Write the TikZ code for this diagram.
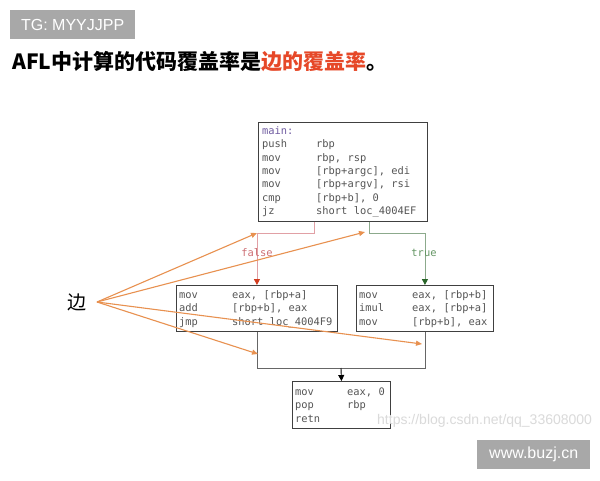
\documentclass[tikz,border=0pt]{standalone}
\usepackage{fontspec}
\setmainfont{Liberation Sans}
\newfontfamily\cjk{Noto Sans CJK SC}
\newfontfamily\mono{DejaVu Sans Mono}
\usetikzlibrary{arrows.meta}
\definecolor{tgray}{RGB}{168,168,168}
\definecolor{titlered}{RGB}{230,72,40}
\definecolor{edgeor}{RGB}{232,145,80}
\definecolor{falsec}{RGB}{225,160,165}
\definecolor{falsetxt}{RGB}{205,110,115}
\definecolor{falsetip}{RGB}{210,60,30}
\definecolor{truec}{RGB}{140,170,140}
\definecolor{truetxt}{RGB}{100,150,100}
\definecolor{truetip}{RGB}{40,100,40}
\definecolor{codec}{RGB}{85,85,85}
\definecolor{labc}{RGB}{110,90,160}
\definecolor{wmc}{RGB}{218,218,218}
\begin{document}
\begin{tikzpicture}[x=1pt,y=-1pt,
  cbox/.style={draw=black!75, line width=0.9pt, inner sep=0, anchor=north west},
  code/.style={inner sep=0, anchor=base west, text=codec, font=\mono\fontsize{10.4}{13.3}\selectfont},
  tag/.style={fill=tgray, text=white, inner sep=0, anchor=north west, font=\fontsize{16}{16}\selectfont},
  brlabel/.style={inner sep=0, font=\mono\fontsize{10.4}{13.3}\selectfont},
  falseline/.style={draw=falsec, line width=0.9pt, -{Triangle[length=6pt,width=6pt,color=falsetip]}},
  trueline/.style={draw=truec, line width=0.9pt, -{Triangle[length=6pt,width=6pt,color=truetip]}},
  mergeline/.style={draw=black!60, line width=0.9pt},
  mergearrow/.style={draw=black, line width=0.9pt, -{Triangle[length=6pt,width=6pt]}},
  edgearrow/.style={draw=edgeor, line width=1.1pt, -{Triangle[length=6pt,width=5pt]}}]
\useasboundingbox (0,0) rectangle (600,480);
\fill[white] (0,0) rectangle (600,480);

% header
\node[tag, minimum width=125pt, minimum height=29pt] (tg) at (10,10) {TG: MYYJJPP};
\node[anchor=base west, inner sep=0, font=\cjk\bfseries\fontsize{21}{21}\selectfont] (title) at (12,69.5)
  {AFL中计算的代码覆盖率是\textcolor{titlered}{边的覆盖率}。};

% boxes
\node[cbox, minimum width=169pt, minimum height=99pt] (top) at (258,122) {};
\node[cbox, minimum width=161pt, minimum height=46pt] (left) at (176,285) {};
\node[cbox, minimum width=137pt, minimum height=46pt] (right) at (356,285) {};
\node[cbox, minimum width=98pt, minimum height=47pt] (bottom) at (292,381) {};

\node[code] (topcode) at (262,134.5) {\begin{tabular}[t]{@{}p{54pt}@{}l@{}}
\multicolumn{2}{@{}l@{}}{\textcolor{labc}{main:}}\\
push & rbp\\
mov & rbp, rsp\\
mov & [rbp+argc], edi\\
mov & [rbp+argv], rsi\\
cmp & [rbp+b], 0\\
jz & short loc\_4004EF
\end{tabular}};
\node[code] (leftcode) at (179,298.5) {\begin{tabular}[t]{@{}p{53pt}@{}l@{}}
mov & eax, [rbp+a]\\
add & [rbp+b], eax\\
jmp & short loc\_4004F9
\end{tabular}};
\node[code] (rightcode) at (359,298.5) {\begin{tabular}[t]{@{}p{53pt}@{}l@{}}
mov & eax, [rbp+b]\\
imul & eax, [rbp+a]\\
mov & [rbp+b], eax
\end{tabular}};
\node[code] (bottomcode) at (295,395.5) {\begin{tabular}[t]{@{}p{52pt}@{}l@{}}
mov & eax, 0\\
pop & rbp\\
retn &
\end{tabular}};

% branches
\coordinate (fk) at (314,233);
\coordinate (tk) at (369,233);
\draw[falseline] (top.south -| fk) -- (fk) -| (left.north);
\draw[trueline] (top.south -| tk) -- (tk) -| (right.north);
\node[brlabel, text=falsetxt] (flab) at (257,253) {false};
\node[brlabel, text=truetxt] (tlab) at (424,253) {true};

% merge
\coordinate (mj) at (341,368);
\draw[mergeline] (left.south) -- (left.south |- mj) -- (right.south |- mj) -- (right.south);
\draw[mergearrow] (mj) -- (bottom.north);

% watermark
\node[anchor=west, inner sep=0, text=wmc, font=\fontsize{14}{14}\selectfont] (wm) at (377,421) {https://blog.csdn.net/qq\_33608000};
\node[tag, minimum width=113pt, minimum height=29pt] (buzj) at (477,440) {www.buzj.cn};

% edge pointers
\node[inner sep=0, font=\cjk\fontsize{19}{19}\selectfont] (bian) at (77,302) {边};
\coordinate (src) at (97,302);
\coordinate (e1) at (257,233);
\coordinate (e2) at (365,232);
\coordinate (e3) at (422,344);
\coordinate (e4) at (258,354);
\draw[edgearrow] (src) -- (e1);
\draw[edgearrow] (src) -- (e2);
\draw[edgearrow] (src) -- (e3);
\draw[edgearrow] (src) -- (e4);
\end{tikzpicture}
\end{document}
